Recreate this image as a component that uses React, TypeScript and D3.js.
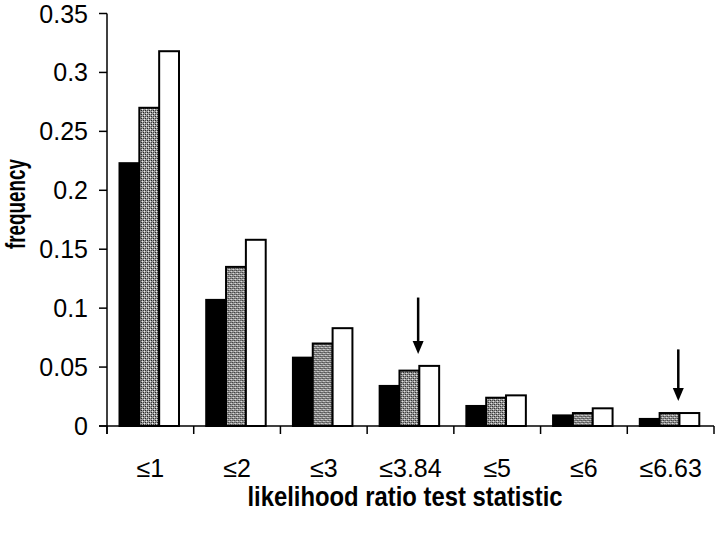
import React, { useRef, useEffect } from 'react';
import * as d3 from 'd3';

const categories = ['≤1', '≤2', '≤3', '≤3.84', '≤5', '≤6', '≤6.63'];
const seriesKeys = ['black', 'hatched', 'white'];
const blackValues = [0.223, 0.107, 0.058, 0.034, 0.017, 0.009, 0.006];
const hatchedValues = [0.270, 0.135, 0.070, 0.047, 0.024, 0.011, 0.011];
const whiteValues = [0.318, 0.158, 0.083, 0.051, 0.026, 0.015, 0.011];
const yTicks = [0, 0.05, 0.1, 0.15, 0.2, 0.25, 0.3, 0.35];
// arrows mark the chi-square critical values (3.84 and 6.63)
const arrowCategories = ['≤3.84', '≤6.63'];
const arrowTops = [0.109, 0.065];

export default function App() {
  const svgRef = useRef(null);
  const width = 720;
  const height = 533;

  useEffect(() => {
    const svg = d3.select(svgRef.current);
    svg.selectAll('*').remove();

    const left = 107, right = 714, top = 13.5, bottom = 426;
    const font = 'Liberation Sans, Arial, sans-serif';

    const x = d3.scaleBand().domain(categories).range([left, right]).padding(0);
    const xi = d3.scaleBand().domain(seriesKeys).range([12.5, 72]).padding(0);
    const y = d3.scaleLinear().domain([0, 0.35]).range([bottom, top]);

    const defs = svg.append('defs');
    const pat = defs.append('pattern')
      .attr('id', 'dots')
      .attr('width', 4).attr('height', 4)
      .attr('patternUnits', 'userSpaceOnUse');
    pat.append('rect').attr('width', 4).attr('height', 4).attr('fill', '#9a9a9a');
    pat.append('rect').attr('x', 0).attr('y', 0).attr('width', 1).attr('height', 1).attr('fill', '#222');
    pat.append('rect').attr('x', 2).attr('y', 2).attr('width', 1).attr('height', 1).attr('fill', '#222');
    pat.append('rect').attr('x', 1).attr('y', 3).attr('width', 1).attr('height', 1).attr('fill', '#eee');
    pat.append('rect').attr('x', 3).attr('y', 1).attr('width', 1).attr('height', 1).attr('fill', '#eee');
    pat.append('rect').attr('x', 2).attr('y', 0).attr('width', 1).attr('height', 1).attr('fill', '#444');
    pat.append('rect').attr('x', 0).attr('y', 2).attr('width', 1).attr('height', 1).attr('fill', '#444');

    const fills = { black: '#000', hatched: 'url(#dots)', white: '#fff' };
    const rows = categories.map((c, i) => ({
      cat: c,
      black: blackValues[i],
      hatched: hatchedValues[i],
      white: whiteValues[i]
    }));

    // bars
    const groups = svg.append('g').selectAll('g')
      .data(rows)
      .join('g')
      .attr('transform', d => `translate(${x(d.cat)},0)`);

    groups.selectAll('rect')
      .data(d => seriesKeys.map(k => ({ key: k, value: d[k] })))
      .join('rect')
      .attr('x', d => xi(d.key))
      .attr('width', xi.bandwidth())
      .attr('y', d => y(d.value))
      .attr('height', d => bottom - y(d.value))
      .attr('fill', d => fills[d.key])
      .attr('stroke', '#000')
      .attr('stroke-width', 2);

    // y axis
    svg.append('line')
      .attr('x1', left).attr('x2', left)
      .attr('y1', top).attr('y2', bottom + 8)
      .attr('stroke', '#000').attr('stroke-width', 1.5);
    svg.append('g').selectAll('line')
      .data(yTicks)
      .join('line')
      .attr('x1', left - 8).attr('x2', left)
      .attr('y1', d => y(d)).attr('y2', d => y(d))
      .attr('stroke', '#000').attr('stroke-width', 1.5);
    svg.append('g').selectAll('text')
      .data(yTicks)
      .join('text')
      .attr('x', 88)
      .attr('y', d => y(d))
      .attr('dy', '0.36em')
      .attr('text-anchor', 'end')
      .attr('font-family', font)
      .attr('font-size', 25)
      .text(d => String(d));

    // x axis
    svg.append('line')
      .attr('x1', left - 8).attr('x2', right)
      .attr('y1', bottom).attr('y2', bottom)
      .attr('stroke', '#000').attr('stroke-width', 1.5);
    const edges = categories.map(c => x(c)).concat([right]);
    svg.append('g').selectAll('line')
      .data(edges)
      .join('line')
      .attr('x1', d => d).attr('x2', d => d)
      .attr('y1', bottom).attr('y2', bottom + 8)
      .attr('stroke', '#000').attr('stroke-width', 1.5);
    svg.append('g').selectAll('text')
      .data(categories)
      .join('text')
      .attr('x', d => x(d) + x.bandwidth() / 2)
      .attr('y', 477)
      .attr('text-anchor', 'middle')
      .attr('font-family', font)
      .attr('font-size', 25)
      .text(d => d);

    // arrows
    arrowCategories.forEach((c, i) => {
      const ax = x(c) + 51;
      const idx = categories.indexOf(c);
      const tip = y(Math.max(blackValues[idx], hatchedValues[idx], whiteValues[idx])) - 12;
      svg.append('line')
        .attr('x1', ax).attr('x2', ax)
        .attr('y1', y(arrowTops[i])).attr('y2', tip - 10)
        .attr('stroke', '#000').attr('stroke-width', 2.5);
      svg.append('path')
        .attr('d', `M${ax - 5.5},${tip - 13} L${ax + 5.5},${tip - 13} L${ax},${tip} Z`)
        .attr('fill', '#000');
    });

    // axis titles
    svg.append('text')
      .attr('x', 405)
      .attr('y', 506)
      .attr('text-anchor', 'middle')
      .attr('font-family', font)
      .attr('font-weight', 'bold')
      .attr('font-size', 28)
      .attr('textLength', 315)
      .attr('lengthAdjust', 'spacingAndGlyphs')
      .text('likelihood ratio test statistic');

    svg.append('text')
      .attr('transform', 'translate(25,204) rotate(-90)')
      .attr('text-anchor', 'middle')
      .attr('font-family', font)
      .attr('font-weight', 'bold')
      .attr('font-size', 27)
      .attr('textLength', 90)
      .attr('lengthAdjust', 'spacingAndGlyphs')
      .text('frequency');
  }, []);

  return (
    <svg ref={svgRef} width={width} height={height}
      style={{ position: 'absolute', left: 0, top: 0, background: '#fff' }} />
  );
}
